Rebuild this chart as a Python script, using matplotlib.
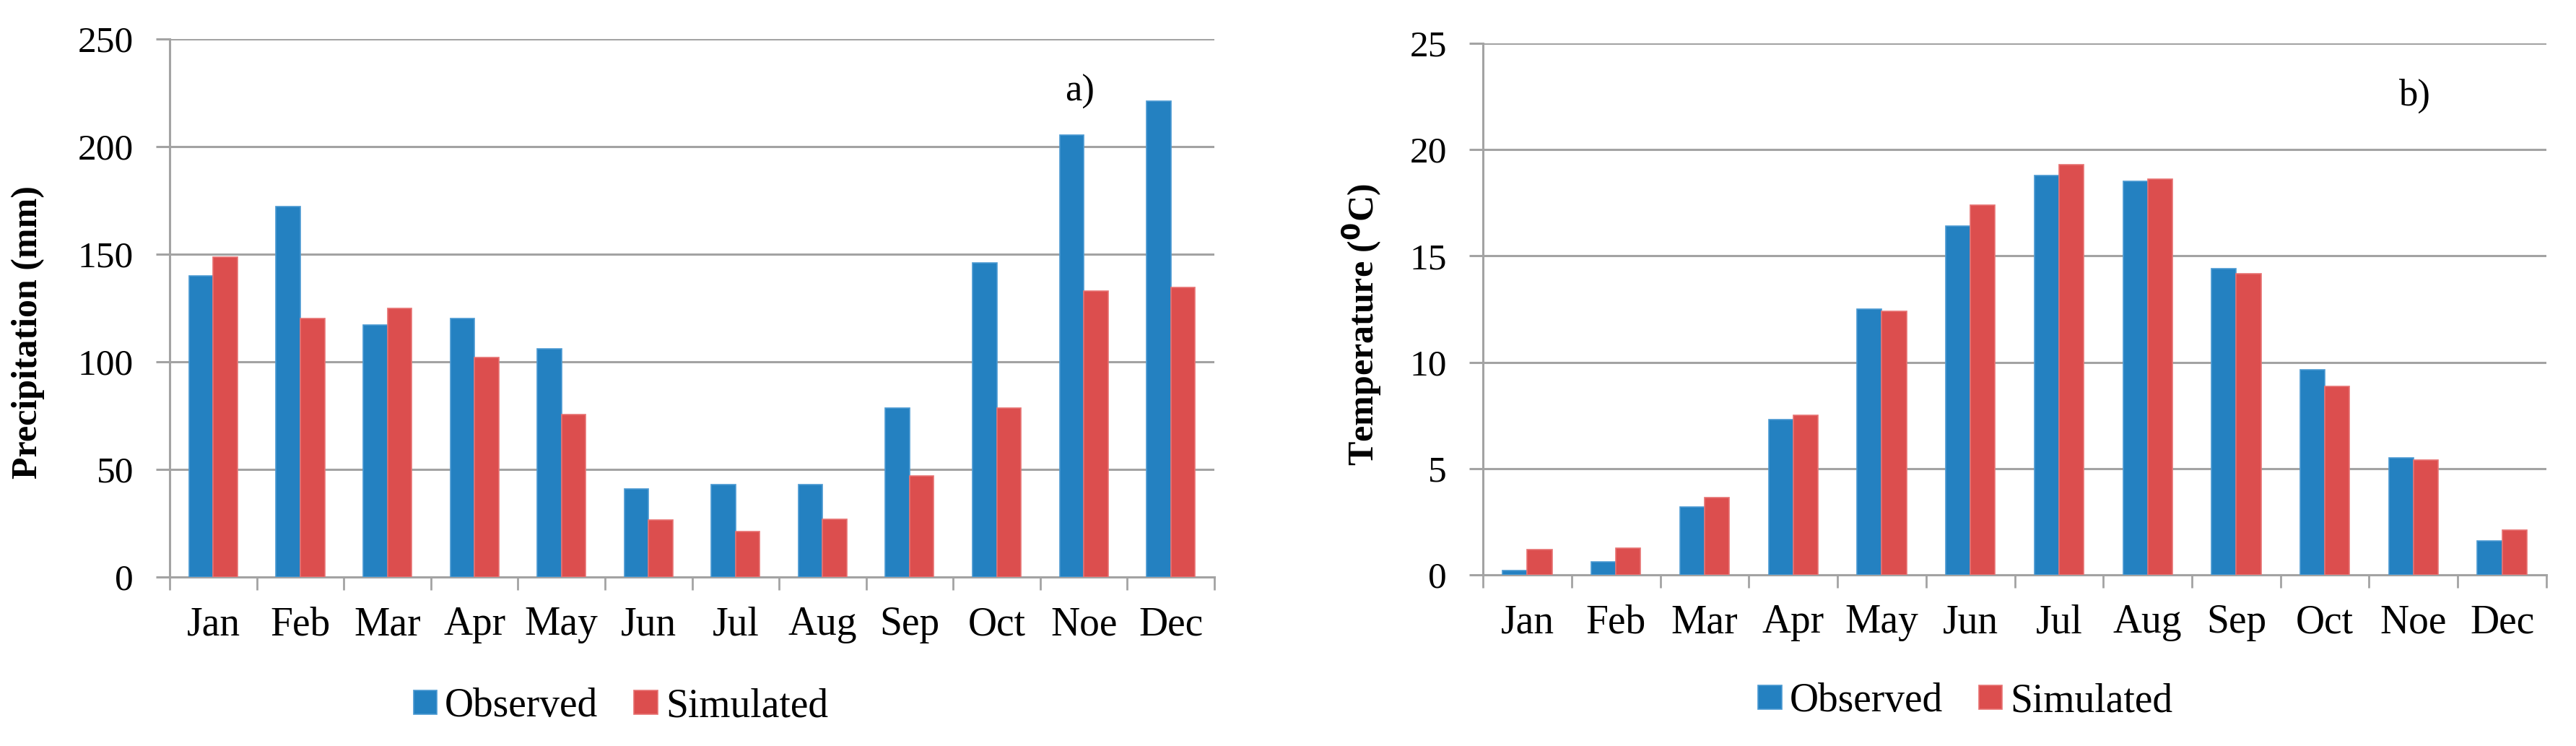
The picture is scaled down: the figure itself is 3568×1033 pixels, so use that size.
import numpy as np
import matplotlib
matplotlib.use("Agg")
import matplotlib.pyplot as plt

months = ['Jan', 'Feb', 'Mar', 'Apr', 'May', 'Jun', 'Jul', 'Aug', 'Sep', 'Oct', 'Noe', 'Dec']

# precipitation (mm)
prec_obs = [140, 172, 117, 120, 106, 41, 43, 43, 78.5, 146, 205.5, 221]
prec_sim = [148.5, 120, 125, 102, 75.5, 26.5, 21, 27, 47, 78.5, 133, 134.5]

# temperature (0C)
temp_obs = [0.2, 0.6, 3.2, 7.3, 12.5, 16.4, 18.8, 18.5, 14.4, 9.65, 5.5, 1.6]
temp_sim = [1.2, 1.25, 3.65, 7.5, 12.4, 17.4, 19.3, 18.6, 14.15, 8.85, 5.4, 2.1]

BLUE = '#2481c1'
RED = '#dc4e4e'
GRID = '#a3a3a3'
plt.rcParams['font.family'] = ['Liberation Serif', 'DejaVu Serif']

fig = plt.figure(figsize=(35.68, 10.33), dpi=100)
ax1 = fig.add_axes([0.0659, 0.2265, 0.4055, 0.7212])
ax2 = fig.add_axes([0.5757, 0.2294, 0.4128, 0.7125])


def bar_panel(ax, obs, sim, ymax, step, tag, tag_xy):
    x = np.arange(len(months))
    w = 0.278
    ax.bar(x - w / 2, obs, w, color=BLUE, edgecolor='#4b9ad2', linewidth=1.2, label='Observed', zorder=3)
    ax.bar(x + w / 2, sim, w, color=RED, edgecolor='#e77373', linewidth=1.2, label='Simulated', zorder=3)
    ax.set_xlim(-0.5, len(months) - 0.5)
    ax.set_ylim(0, ymax)
    ax.set_yticks(np.arange(0, ymax + step / 2, step))
    ax.set_xticks(x)
    ax.set_xticklabels(months)
    ax.set_xticks(np.arange(-0.5, len(months)), minor=True)
    ax.tick_params(axis='x', which='major', length=0, pad=29, labelsize=40)
    ax.tick_params(axis='x', which='minor', length=13, width=2, color=GRID)
    ax.tick_params(axis='y', length=14, width=2.2, color=GRID, pad=22, labelsize=37)
    ax.grid(True, axis='y', color=GRID, linewidth=2.2, zorder=0)
    for s in ['top', 'right']:
        ax.spines[s].set_visible(False)
    for s in ['left', 'bottom']:
        ax.spines[s].set_color(GRID)
        ax.spines[s].set_linewidth(2.2)
    ax.text(tag_xy[0], tag_xy[1], tag, transform=ax.transAxes, fontsize=38, ha='center', va='center')


bar_panel(ax1, prec_obs, prec_sim, 250, 50, 'a)', (0.871, 0.902))
bar_panel(ax2, temp_obs, temp_sim, 25, 5, 'b)', (0.876, 0.901))

fig.text(0.0109, 0.555, 'Precipitation (mm)', rotation=90, ha='center', va='center',
         fontsize=36, fontweight='bold')
fig.text(0.5286, 0.565, 'Temperature ($\\mathbf{^{0}}$C)', rotation=90, ha='center', va='center',
         fontsize=36, fontweight='bold')

for ax, anchor in [(ax1, (0.241, 0.053)), (ax2, (0.763, 0.06))]:
    h, l = ax.get_legend_handles_labels()
    fig.legend(h, l, loc='center', bbox_to_anchor=anchor, ncol=2, frameon=False, fontsize=40,
               handlelength=0.58, handleheight=0.54, handletextpad=0.2, columnspacing=0.9)

plt.savefig('out.png', dpi=100)
